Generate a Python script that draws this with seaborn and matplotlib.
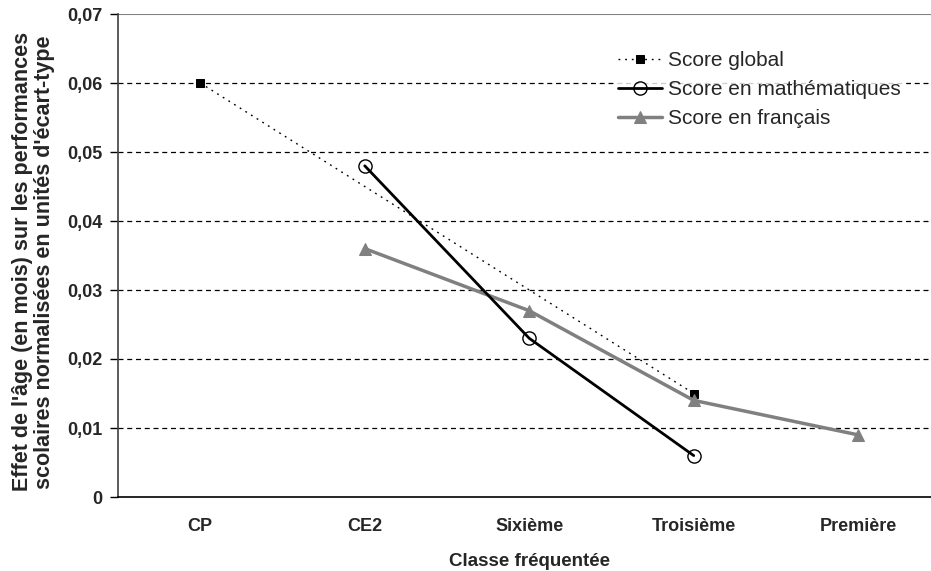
import matplotlib
matplotlib.use("Agg")
import matplotlib.pyplot as plt
import seaborn as sns
import numpy as np
import pandas as pd

categories = ["CP", "CE2", "Sixième", "Troisième", "Première"]
score_global = [0.060, np.nan, np.nan, 0.015, np.nan]
score_math = [np.nan, 0.048, 0.023, 0.006, np.nan]
score_francais = [np.nan, 0.036, 0.027, 0.014, 0.009]
yticks = [0, 0.01, 0.02, 0.03, 0.04, 0.05, 0.06, 0.07]
ytick_labels = ["0", "0,01", "0,02", "0,03", "0,04", "0,05", "0,06", "0,07"]

sns.set_style("white")
plt.rcParams["font.family"] = ["Liberation Sans", "DejaVu Sans"]

fig = plt.figure(figsize=(9.31, 5.71), dpi=100)
ax = fig.add_axes([118 / 931, 1 - 497 / 571, (940.5 - 118) / 931, (497 - 14) / 571])

x = np.arange(len(categories))
df = pd.DataFrame({"x": x, "g": score_global, "m": score_math, "f": score_francais})

for yv in yticks[1:-1]:
    ax.axhline(yv, color="black", lw=0.9, ls=(0, (4, 3)), zorder=0)
ax.axhline(0.07, color="#808080", lw=1.5, zorder=0)

sns.lineplot(data=df, x="x", y="g", ax=ax, color="black", lw=1.0, ls=(0, (1.3, 3.5)),
             marker="s", markersize=6, markeredgecolor="black", markerfacecolor="black",
             label="Score global", zorder=3)
sns.lineplot(data=df, x="x", y="m", ax=ax, color="black", lw=2.0,
             marker="o", markersize=9.5, markeredgecolor="black", markerfacecolor="none",
             markeredgewidth=1.0, label="Score en mathématiques", zorder=4)
sns.lineplot(data=df, x="x", y="f", ax=ax, color="#808080", lw=2.5,
             marker="^", markersize=8, markeredgecolor="#808080", markerfacecolor="#808080",
             label="Score en français", zorder=3)

ax.set_xlim(-0.5, 4.5)
ax.set_ylim(0, 0.07)
ax.set_yticks(yticks)
ax.set_yticklabels(ytick_labels, fontsize=13, fontweight="bold")
ax.set_xticks(x)
ax.set_xticklabels(categories, fontsize=13, fontweight="bold")
ax.set_xticks(np.arange(-0.5, 4.6, 1), minor=True)
ax.tick_params(axis="x", which="major", length=0, pad=15)
ax.tick_params(axis="x", which="minor", length=5, width=1, direction="out", color="black")
ax.tick_params(axis="y", length=6, width=1, direction="out", color="black", pad=5, left=True)

for s in ["top", "right"]:
    ax.spines[s].set_visible(False)
ax.spines["left"].set_color("#404040")
ax.spines["left"].set_linewidth(1.2)
ax.spines["bottom"].set_color("black")
ax.spines["bottom"].set_linewidth(1.2)

ax.set_xlabel("Classe fréquentée", fontsize=13.5, fontweight="bold", labelpad=13)
ax.set_ylabel("Effet de l'âge (en mois) sur les performances\nscolaires normalisées en unités d'écart-type",
              fontsize=15.5, fontweight="bold", linespacing=1.1)
ax.yaxis.set_label_coords(-0.076, 0.487)

leg = ax.legend(loc="upper left", bbox_to_anchor=(0.590, 0.954), frameon=True, fontsize=15,
                handlelength=2.1, handletextpad=0.3, labelspacing=0.48, borderpad=0.2)
leg.get_frame().set_facecolor("white")
leg.get_frame().set_edgecolor("white")
leg.get_frame().set_boxstyle("square", pad=0)

fig.savefig("out.png", dpi=100)
